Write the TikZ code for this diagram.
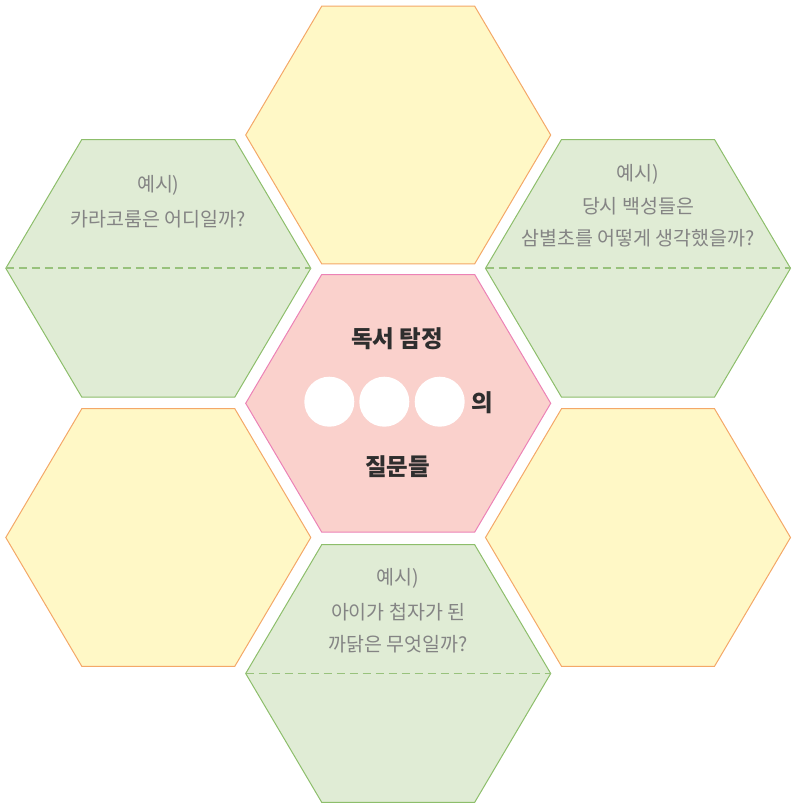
\documentclass[tikz,border=0pt]{standalone}
\usepackage{fontspec}
\setmainfont{Noto Sans CJK KR}
\definecolor{gfill}{HTML}{E0ECD5}
\definecolor{gline}{HTML}{8DBE6B}
\definecolor{gdash}{HTML}{98C27C}
\definecolor{yfill}{HTML}{FFF8C6}
\definecolor{yline}{HTML}{F4A868}
\definecolor{pfill}{HTML}{FAD1CC}
\definecolor{pline}{HTML}{EC82B6}
\definecolor{greytext}{HTML}{848484}
\definecolor{darktext}{HTML}{2E2E2E}
\newcommand\hexcell[3]{%
  \draw[#3] (#1-152.5,#2) -- (#1-76.5,#2-128.8) -- (#1+76.5,#2-128.8) --
    (#1+152.5,#2) -- (#1+76.5,#2+128.8) -- (#1-76.5,#2+128.8) -- cycle;}
\newcommand\hexmid[2]{%
  \draw[midline] (#1-152.5,#2) -- (#1+152.5,#2);}
\tikzset{
  greenhex/.style={fill=gfill, draw=gline, line width=1pt, line join=miter},
  yellowhex/.style={fill=yfill, draw=yline, line width=1pt, line join=miter},
  pinkhex/.style={fill=pfill, draw=pline, line width=1pt, line join=miter},
  midline/.style={draw=gdash, line width=1.8pt, dash pattern=on 8pt off 5pt},
  hint/.style={text=greytext, font=\fontsize{19.5}{22}\selectfont, inner sep=0pt, anchor=center},
  title/.style={text=darktext, font=\fontsize{23.5}{26}\selectfont\bfseries, inner sep=0pt, anchor=center},
  blank/.style={circle, fill=white, minimum size=50pt, inner sep=0pt}
}
\begin{document}
\begin{tikzpicture}[x=1pt,y=-1pt]
\useasboundingbox (0,0) rectangle (792,806);
% hexagons
\hexcell{398.2}{135}{yellowhex}
\hexcell{158.3}{268.3}{greenhex}
\hexcell{638}{268.3}{greenhex}
\hexcell{398.2}{403.3}{pinkhex}
\hexcell{158.3}{537.5}{yellowhex}
\hexcell{638}{537.5}{yellowhex}
\hexcell{398.2}{673.5}{greenhex}
\hexmid{158.3}{268.3}
\hexmid{638}{268.3}
\hexmid{398.2}{673.5}
% top-left hint
\node[hint] (tl1) at (158.3,185) {예시)};
\node[hint] (tl2) at (158.3,219) {카라코룸은 어디일까?};
% top-right hint
\node[hint] (tr1) at (638,174) {예시)};
\node[hint] (tr2) at (638,206) {당시 백성들은};
\node[hint] (tr3) at (638,238) {삼별초를 어떻게 생각했을까?};
% bottom hint
\node[hint] (b1) at (398.2,578) {예시)};
\node[hint] (b2) at (398.2,612) {아이가 첩자가 된};
\node[hint] (b3) at (398.2,644) {까닭은 무엇일까?};
% centre
\node[title] (c1) at (397,339) {독서 탐정};
\node[blank] (o1) at (329.3,401.7) {};
\node[blank] (o2) at (384.3,401.7) {};
\node[blank] (o3) at (439.7,401.7) {};
\node[title] (c2) at (482,403) {의};
\node[title] (c3) at (397.5,467) {질문들};
\end{tikzpicture}
\end{document}
